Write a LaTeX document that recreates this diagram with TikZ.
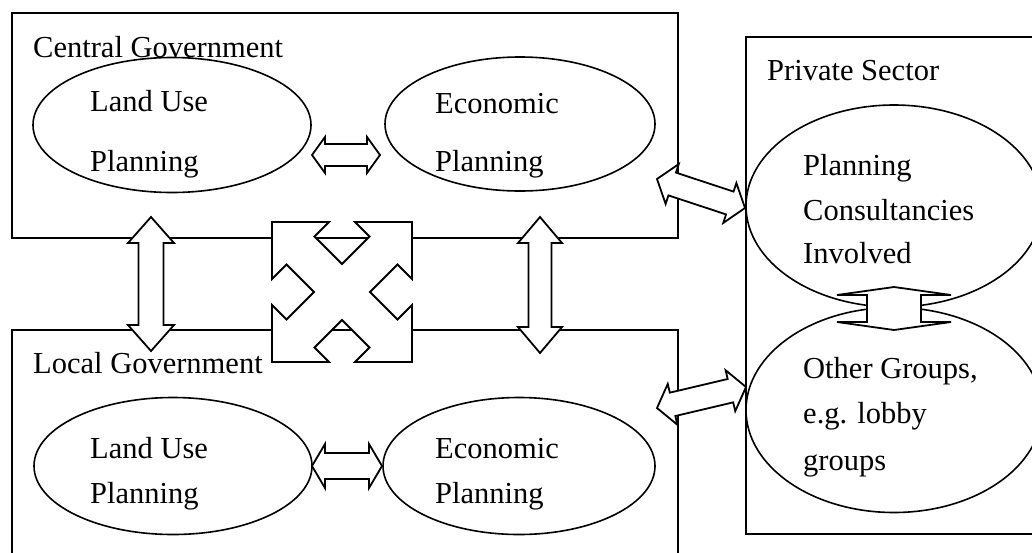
\documentclass[tikz,border=0pt]{standalone}
\usepackage{fontspec}
\setmainfont{Liberation Serif}
\usetikzlibrary{shapes.geometric,calc}
\tikzset{
  frame/.style={draw=black,line width=1.8pt},
  oval/.style={draw=black,line width=1.6pt,ellipse,inner sep=0pt},
  lbl/.style={anchor=base west,inner sep=0pt,font=\fontsize{30.5}{36}\selectfont},
  fatarrow/.style={draw=black,fill=white,line width=1.8pt,line join=miter,miter limit=4}
}
\newcommand\fatdarrow[6][]{%
  \draw[fatarrow,#1] (#2)
   -- ($(#2)!#4!(#3)!#5!90:(#3)$)
   -- ($(#2)!#4!(#3)!#6!90:(#3)$)
   -- ($(#3)!#4!(#2)!#6!-90:(#2)$)
   -- ($(#3)!#4!(#2)!#5!-90:(#2)$)
   -- (#3)
   -- ($(#3)!#4!(#2)!#5!90:(#2)$)
   -- ($(#3)!#4!(#2)!#6!90:(#2)$)
   -- ($(#2)!#4!(#3)!#6!-90:(#3)$)
   -- ($(#2)!#4!(#3)!#5!-90:(#3)$)
   -- cycle;}
\begin{document}
\begin{tikzpicture}[x=1pt,y=-1pt]
\useasboundingbox (0,0) rectangle (1032,552);
\fill[white] (0,0) rectangle (1032,552);
\clip (0,0) rectangle (1032,552);
% boxes
\draw[frame] (12,13) rectangle (678,238);
\draw[frame] (12,330) rectangle (678,600);
\draw[frame] (746,37) rectangle (1060,534);
% box titles
\node[lbl] (tcg) at (33,57) {Central Government};
\node[lbl] (tlg) at (33,373) {Local Government};
\node[lbl] (tps) at (767,80) {Private Sector};
% ellipses
\node[oval,minimum width=278pt,minimum height=135pt] (cl) at (172,125) {};
\node[oval,minimum width=270pt,minimum height=134pt] (ce) at (520,124) {};
\node[oval,minimum width=278pt,minimum height=137pt] (ll) at (173,466) {};
\node[oval,minimum width=272pt,minimum height=137pt] (le) at (519,466) {};
\node[oval,minimum width=296pt,minimum height=202pt] (pu) at (894,206) {};
\node[oval,minimum width=296pt,minimum height=205pt] (pl) at (894,410) {};
% ellipse texts
\node[lbl] (t1) at (90,111) {Land Use};
\node[lbl] (t2) at (90,171) {Planning};
\node[lbl] (t3) at (435,113) {Economic};
\node[lbl] (t4) at (435,171) {Planning};
\node[lbl] (t5) at (90,458) {Land Use};
\node[lbl] (t6) at (90,503) {Planning};
\node[lbl] (t7) at (435,458) {Economic};
\node[lbl] (t8) at (435,503) {Planning};
\node[lbl] (t9) at (803,175) {Planning};
\node[lbl] (t10) at (803,220) {Consultancies};
\node[lbl] (t11) at (803,263) {Involved};
\node[lbl] (t12) at (803,378) {Other Groups,};
\node[lbl] (t13) at (803,423) {e.g. lobby};
\node[lbl] (t14) at (803,470) {groups};
% arrow end points
\coordinate (c1) at (312,155); \coordinate (c2) at (380,155);
\coordinate (l1) at (312,466); \coordinate (l2) at (382,466);
\coordinate (v1a) at (151,217); \coordinate (v1b) at (151,351);
\coordinate (v2a) at (540,217); \coordinate (v2b) at (540,353);
\coordinate (d1a) at (657,179); \coordinate (d1b) at (745,208);
\coordinate (d2a) at (657,408); \coordinate (d2b) at (746,387);
\coordinate (m1) at (894,287); \coordinate (m2) at (894,330);
% double arrows
\fatdarrow{c1}{c2}{13pt}{18pt}{11pt}
\fatdarrow{l1}{l2}{13pt}{22pt}{13pt}
\fatdarrow{v1a}{v1b}{26pt}{23pt}{12.5pt}
\fatdarrow{v2a}{v2b}{26pt}{22pt}{11.5pt}
\fatdarrow{d1a}{d1b}{16pt}{21pt}{12pt}
\fatdarrow{d2a}{d2b}{16pt}{21pt}{12pt}
\fatdarrow{m1}{m2}{8pt}{57pt}{27pt}
% four-way cross arrow
\begin{scope}[shift={(342,292)}]
\draw[fatarrow] (-70,-70) -- (-13,-70) -- (-27.5,-55.5) -- (0,-28) -- (27.5,-55.5) -- (13,-70)
 -- (70,-70) -- (70,-13) -- (55.5,-27.5) -- (28,0) -- (55.5,27.5) -- (70,13)
 -- (70,70) -- (13,70) -- (27.5,55.5) -- (0,28) -- (-27.5,55.5) -- (-13,70)
 -- (-70,70) -- (-70,13) -- (-55.5,27.5) -- (-28,0) -- (-55.5,-27.5) -- (-70,-13) -- cycle;
\end{scope}
\end{tikzpicture}
\end{document}
